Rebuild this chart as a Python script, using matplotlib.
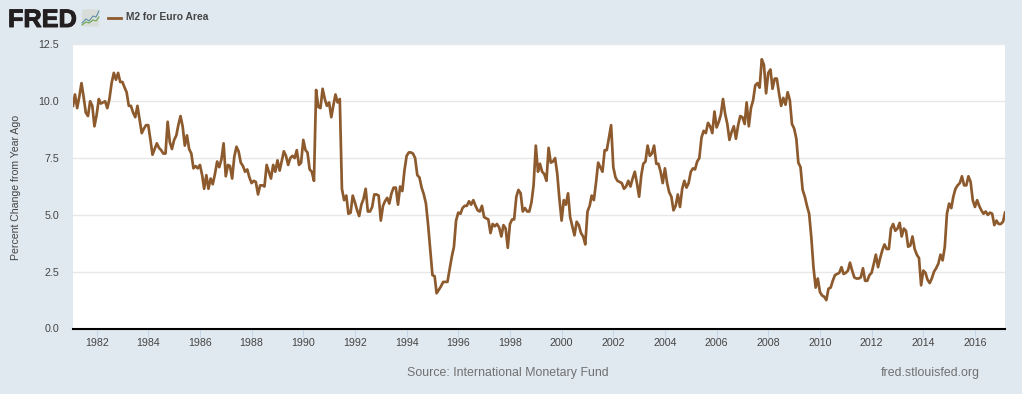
import matplotlib
matplotlib.use('Agg')
import matplotlib.pyplot as plt
import matplotlib.dates as mdates
import matplotlib.patheffects as pe
from matplotlib.lines import Line2D
from matplotlib.patches import FancyBboxPatch
import numpy as np
import pandas as pd

plt.rcParams['font.family'] = ['Liberation Sans', 'DejaVu Sans']

# percent change from year ago, one row = 12 months, first value is Feb 1981
m2_rows = [
    [9.8, 10.3, 9.7, 10.2, 10.8, 10.2, 9.5, 9.35, 10.0, 9.8, 8.9, 9.4],
    [10.1, 9.9, 9.95, 10.0, 9.7, 10.1, 10.8, 11.25, 10.95, 11.25, 10.85, 10.85],
    [10.6, 10.4, 9.8, 9.8, 9.5, 9.3, 9.8, 9.2, 8.6, 8.8, 8.95, 8.95],
    [8.3, 7.65, 7.9, 8.15, 7.95, 7.85, 7.7, 7.7, 9.1, 8.2, 7.9, 8.3],
    [8.5, 8.95, 9.35, 8.9, 8.05, 8.5, 7.9, 7.7, 7.05, 7.15, 7.05, 7.2],
    [6.75, 6.15, 6.75, 6.15, 6.6, 6.35, 6.8, 7.35, 7.1, 7.45, 8.15, 6.7],
    [7.2, 7.15, 6.6, 7.55, 8.0, 7.8, 7.3, 7.15, 6.9, 7.0, 6.65, 6.4],
    [6.5, 6.45, 5.9, 6.3, 6.3, 6.25, 7.2, 6.9, 6.6, 7.2, 6.9, 7.4],
    [6.95, 7.35, 7.8, 7.6, 7.2, 7.5, 7.6, 7.5, 7.85, 7.2, 7.3, 8.3],
    [7.85, 7.75, 7.0, 6.9, 6.5, 10.5, 9.75, 9.7, 10.55, 10.1, 9.8, 9.95],
    [9.3, 9.8, 10.3, 9.95, 10.1, 6.15, 5.65, 5.85, 5.05, 5.1, 5.85, 5.55],
    [5.2, 4.95, 5.45, 5.7, 6.15, 5.15, 5.15, 5.35, 5.9, 5.9, 5.85, 4.75],
    [5.4, 5.6, 5.75, 5.5, 5.95, 6.2, 6.2, 5.45, 6.25, 6.05, 6.95, 7.6],
    [7.75, 7.75, 7.7, 7.5, 6.75, 6.65, 6.2, 5.9, 5.5, 4.55, 3.45, 2.35],
    [2.3, 1.55, 1.7, 1.85, 2.05, 2.05, 2.05, 2.6, 3.15, 3.6, 4.75, 5.1],
    [5.05, 5.3, 5.4, 5.4, 5.6, 5.45, 5.65, 5.4, 5.2, 5.15, 5.4, 4.9],
    [4.85, 4.8, 4.2, 4.6, 4.5, 4.6, 4.45, 4.05, 4.55, 4.4, 3.55, 4.6],
    [4.8, 4.8, 5.8, 6.1, 5.95, 5.15, 5.3, 5.15, 5.15, 5.55, 6.3, 8.05],
    [6.9, 7.25, 6.9, 6.8, 6.5, 7.95, 7.3, 7.35, 7.5, 6.8, 5.7, 4.75],
    [5.65, 5.45, 5.95, 4.9, 4.5, 4.1, 4.7, 4.55, 4.2, 4.05, 3.7, 5.15],
    [5.4, 5.85, 5.65, 6.4, 7.3, 7.1, 6.9, 7.85, 7.85, 8.4, 8.95, 7.1],
    [6.65, 6.5, 6.45, 6.4, 6.15, 6.25, 6.5, 6.25, 6.6, 6.9, 6.4, 5.8],
    [6.75, 7.25, 7.35, 8.05, 7.6, 7.7, 8.05, 7.25, 7.25, 6.9, 6.4, 7.05],
    [6.4, 6.0, 5.8, 5.2, 5.4, 5.9, 5.35, 6.15, 6.5, 6.2, 6.4, 6.9],
    [7.05, 7.0, 7.35, 7.5, 8.4, 8.7, 8.6, 9.05, 8.9, 8.6, 9.55, 8.85],
    [9.1, 9.4, 10.1, 9.45, 9.0, 8.3, 8.65, 8.9, 8.35, 8.95, 9.35, 9.3],
    [9.0, 9.95, 8.9, 9.7, 10.05, 10.7, 10.8, 10.6, 11.85, 11.6, 10.35, 11.25],
    [11.4, 10.55, 11.0, 11.0, 10.35, 9.8, 10.15, 9.85, 10.4, 10.05, 9.0, 8.8],
    [8.35, 7.3, 7.1, 6.1, 5.8, 5.4, 5.05, 4.0, 2.7, 1.8, 2.2, 1.6],
    [1.45, 1.4, 1.25, 1.75, 1.8, 2.1, 2.35, 2.4, 2.45, 2.7, 2.4, 2.45],
    [2.55, 2.9, 2.55, 2.25, 2.2, 2.2, 2.25, 2.65, 2.1, 2.1, 2.35, 2.45],
    [2.85, 3.25, 2.7, 3.1, 3.45, 3.7, 3.5, 3.5, 4.4, 4.6, 4.3, 4.4],
    [4.65, 4.05, 4.4, 4.3, 3.6, 3.65, 4.05, 3.5, 3.25, 3.1, 1.9, 2.55],
    [2.45, 2.15, 2.0, 2.2, 2.5, 2.65, 2.85, 3.25, 3.0, 3.6, 5.05, 5.5],
    [5.3, 5.8, 6.15, 6.3, 6.4, 6.7, 6.3, 6.3, 6.7, 6.45, 5.65, 5.35],
    [5.65, 5.4, 5.2, 5.05, 5.15, 5.0, 5.1, 5.05, 4.55, 4.75, 4.6, 4.6],
    [4.7, 5.1],
]
series_name = 'M2 for Euro Area'
y_ticks = [0.0, 2.5, 5.0, 7.5, 10.0, 12.5]

values = [v for row in m2_rows for v in row]
dates = pd.date_range('1981-02-01', periods=len(values), freq='MS')

W, H = 1022, 394
BG = '#e1e9f0'
BROWN = '#8c5a2d'


def fx(px):
    return px / W


def fy(py):
    return 1 - py / H


fig = plt.figure(figsize=(W / 100, H / 100), dpi=100, facecolor=BG)
ax = fig.add_axes([fx(73), fy(328.5), (1005 - 73) / W, (328.5 - 44.5) / H])
ax.plot(dates, values, color=BROWN, lw=1.95, zorder=3)

ax.set_xlim(dates[0], dates[-1])
ax.set_ylim(0, 12.5)
ax.set_yticks(y_ticks)
ax.set_yticklabels(['%.1f' % t for t in y_ticks], fontsize=7.7, color='#444444')
ax.xaxis.set_major_locator(mdates.YearLocator(2))
ax.xaxis.set_major_formatter(mdates.DateFormatter('%Y'))
ax.grid(axis='y', color='#e8e8e8', lw=1)
ax.set_axisbelow(True)
for s in ['top', 'right', 'left']:
    ax.spines[s].set_visible(False)
ax.spines['bottom'].set_color('black')
ax.spines['bottom'].set_linewidth(1.5)
ax.spines['bottom'].set_zorder(5)
ax.tick_params(axis='y', length=0, pad=10)
ax.tick_params(axis='x', length=6, width=0.7, color='#c5d4e8', labelsize=7.7, labelcolor='#444444', pad=1)

fig.text(fx(16), fy(187), 'Percent Change from Year Ago', rotation=90, ha='center', va='center',
         fontsize=7.6, color='#444444')

# header: logo and legend
fred = fig.text(fx(8), fy(27), 'FRED', fontsize=18.2, fontweight='bold', color='#231f20', ha='left', va='baseline')
fred.set_path_effects([pe.withStroke(linewidth=0.7, foreground='#231f20')])
fig.patches.append(FancyBboxPatch((fx(82), fy(26.5)), 17 / W, 17 / H, boxstyle='round,pad=0,rounding_size=0.002',
                                  transform=fig.transFigure, fc='#d9ddd9', ec='none'))
fig.add_artist(Line2D([fx(x) for x in (82, 86, 89, 93, 96, 99)], [fy(y) for y in (23, 19, 21, 16, 17, 11)],
                      color='#5b8fa8', lw=0.8))
fig.add_artist(Line2D([fx(x) for x in (82, 86, 89, 93, 96, 99)], [fy(y) for y in (25, 22, 23, 20, 21, 17)],
                      color='#6aa84f', lw=0.8))
fig.add_artist(Line2D([fx(108), fx(121)], [fy(17.5), fy(17.5)], color=BROWN, lw=2.0))
fig.text(fx(126), fy(17.5), series_name, fontsize=7.4, fontweight='bold', color='#444444', ha='left', va='center')

# footer
fig.text(fx(407), fy(373), 'Source: International Monetary Fund', fontsize=8.9, color='#707070', ha='left', va='center')
fig.text(fx(979.5), fy(373), 'fred.stlouisfed.org', fontsize=8.9, color='#707070', ha='right', va='center')

fig.savefig('out.png', dpi=100, facecolor=BG)
